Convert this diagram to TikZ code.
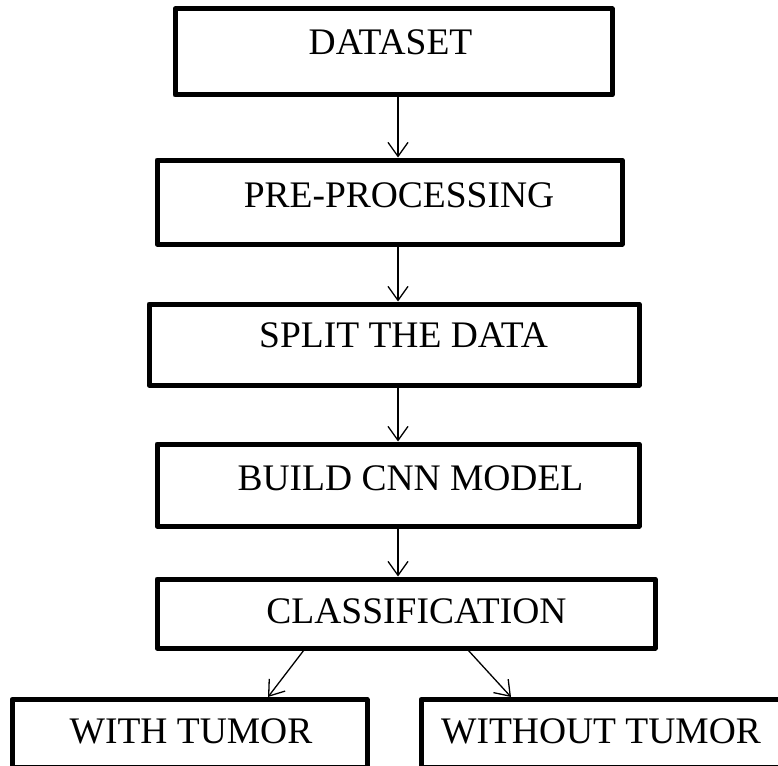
\documentclass[tikz,border=0pt]{standalone}
\usepackage{fontspec}
\setmainfont{Liberation Serif}
\usetikzlibrary{arrows.meta}

\tikzset{
  stepbox/.style={draw=black, line width=5pt, line join=round, inner sep=0pt},
  caption/.style={anchor=base, inner sep=0pt, font=\fontsize{37.5pt}{41pt}\selectfont},
  flow/.style={draw=black, line width=1.3pt, -{Straight Barb[length=14pt,width=20pt,line width=1.3pt]}}
}

\begin{document}
\begin{tikzpicture}[x=1pt,y=-1pt]
  \useasboundingbox (0,0) rectangle (778,765);
  \clip (0,0) rectangle (778,765);

  % process boxes
  \node[stepbox, minimum width=437pt, minimum height=86pt] (b1) at (393.5,52) {};
  \node[stepbox, minimum width=465pt, minimum height=84pt] (b2) at (389.5,202) {};
  \node[stepbox, minimum width=490pt, minimum height=81pt] (b3) at (394,344.5) {};
  \node[stepbox, minimum width=482pt, minimum height=82pt] (b4) at (398,485) {};
  \node[stepbox, minimum width=498pt, minimum height=69pt] (b5) at (406,613.5) {};
  \node[stepbox, minimum width=355pt, minimum height=68pt] (b6) at (189.5,733.5) {};
  \node[stepbox, minimum width=440pt, minimum height=68pt] (b7) at (641,733.5) {};

  % box labels
  \node[caption] (t1) at (390.5,54.5) {DATASET};
  \node[caption] (t2) at (399,207.5) {PRE-PROCESSING};
  \node[caption] (t3) at (403.5,347.5) {SPLIT THE DATA};
  \node[caption] (t4) at (410.5,490.5) {BUILD CNN MODEL};
  \node[caption] (t5) at (416.5,623.5) {CLASSIFICATION};
  \node[caption] (t6) at (191,743.5) {WITH TUMOR};
  \node[caption] (t7) at (601,743.5) {WITHOUT TUMOR};

  % connector guide points
  \coordinate (axis) at (398,0);
  \coordinate (lstart) at (304,650);
  \coordinate (lend) at (268,0);
  \coordinate (rstart) at (468,650);
  \coordinate (rend) at (511,0);

  % connectors
  \draw[flow] (b1.south -| axis) -- (b2.north -| axis);
  \draw[flow] (b2.south -| axis) -- (b3.north -| axis);
  \draw[flow] (b3.south -| axis) -- (b4.north -| axis);
  \draw[flow] (b4.south -| axis) -- (b5.north -| axis);
  \draw[flow] (lstart) -- (b6.north -| lend);
  \draw[flow] (rstart) -- (b7.north -| rend);
\end{tikzpicture}
\end{document}
